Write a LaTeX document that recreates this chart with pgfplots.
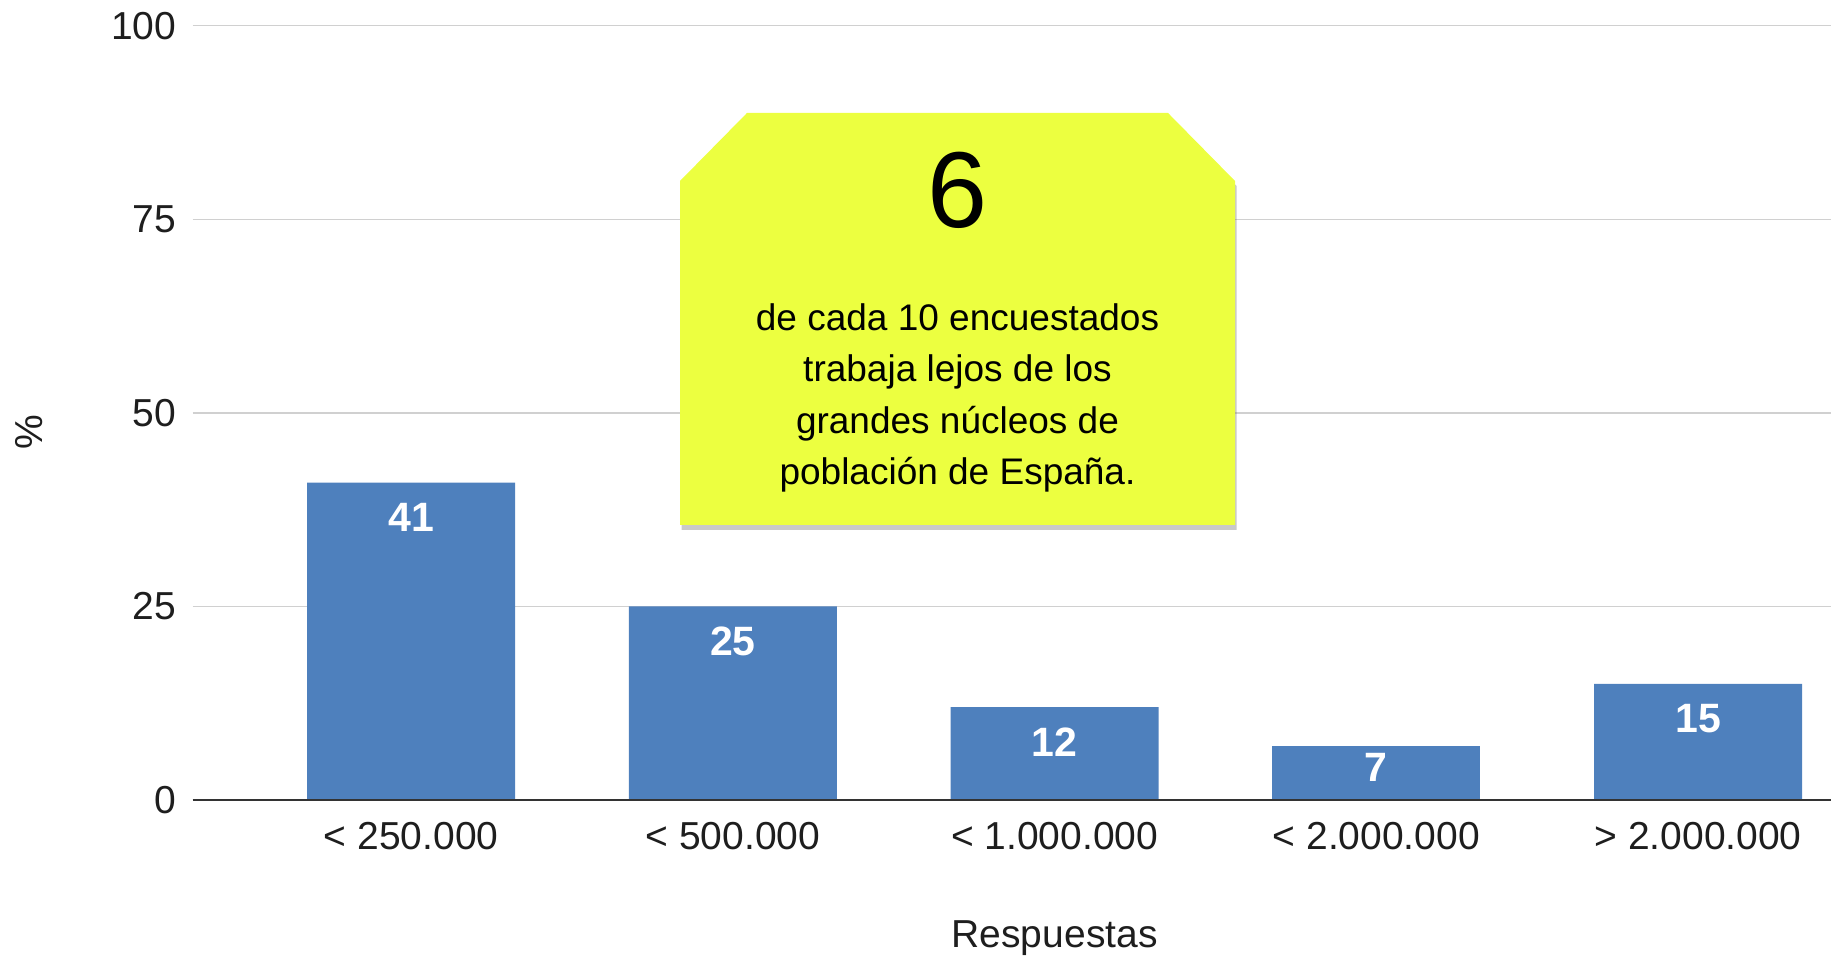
\documentclass[border=0pt]{standalone}
\usepackage{pgfplots}
\pgfplotsset{compat=1.18}
\usepackage{fontspec}
\setmainfont{Liberation Sans}
\usetikzlibrary{shadows}
\definecolor{barblue}{RGB}{78,128,189}
\definecolor{boxyellow}{RGB}{236,255,64}
\definecolor{gridgray}{RGB}{208,208,208}
\definecolor{labgray}{RGB}{30,30,30}
\definecolor{axisdark}{RGB}{51,51,51}
\begin{document}
\begin{tikzpicture}
\useasboundingbox (0pt,0pt) rectangle (915.5pt,480.5pt);
\begin{axis}[
  at={(96.35pt,80.5pt)}, anchor=south west,
  scale only axis, width=819.15pt, height=387.15pt,
  xmin=-0.679, xmax=4.413, ymin=0, ymax=100,
  ytick={0,25,50,75,100},
  xtick={0,1,2,3,4},
  xticklabels={{< 250.000},{< 500.000},{< 1.000.000},{< 2.000.000},{> 2.000.000}},
  axis line style={draw=none},
  major tick length=0pt,
  ymajorgrids, grid style={gridgray, line width=0.75pt},
  tick label style={font=\fontsize{19.5}{22}\selectfont, text=labgray, inner sep=0pt},
  /pgf/number format/assume math mode=true,
  yticklabel style={anchor=east, xshift=-8pt},
  xticklabel style={anchor=north, yshift=-11pt},
  xlabel={Respuestas},
  xlabel style={at={(axis description cs:0.5261,0)}, anchor=center, yshift=-69pt, font=\fontsize{19.5}{22}\selectfont, text=labgray, inner sep=0pt},
  ylabel={\%},
  ylabel style={at={(axis description cs:-0.0998,0.475)}, anchor=center, rotate=0, font=\fontsize{19.5}{22}\selectfont, text=labgray, inner sep=0pt},
  clip=false,
]
\addplot[ybar, bar width=104pt, bar shift=0pt, fill=barblue, draw=none,
  nodes near coords,
  every node near coord/.append style={anchor=north, yshift=-10pt, inner sep=0pt, text=white, font=\bfseries\fontsize{20.5}{22}\selectfont}]
  coordinates {(0,41) (1,25) (2,12) (4,15)};
\addplot[ybar, bar width=104pt, bar shift=0pt, fill=barblue, draw=none,
  nodes near coords,
  every node near coord/.append style={anchor=north, yshift=-3.6pt, inner sep=0pt, text=white, font=\bfseries\fontsize{20.5}{22}\selectfont}]
  coordinates {(3,7)};
\draw[axisdark, line width=1pt] (axis cs:-0.679,0) -- (axis cs:4.413,0);
\end{axis}
\fill[boxyellow, drop shadow={shadow xshift=0.8pt, shadow yshift=-2.5pt, opacity=0.3, fill=black!70}]
  (340pt,390pt) -- (373.5pt,424pt) -- (584pt,424pt) -- (617.5pt,390pt) -- (617.5pt,218pt) -- (340pt,218pt) -- cycle;
\node[font=\fontsize{54}{60}\selectfont, inner sep=0pt] at (478.75pt,385.5pt) {6};
\node[font=\fontsize{18.5}{25.7}\selectfont, align=center, inner sep=0pt] at (478.75pt,281.5pt)
  {de cada 10 encuestados\\trabaja lejos de los\\grandes núcleos de\\población de España.};
\end{tikzpicture}
\end{document}
